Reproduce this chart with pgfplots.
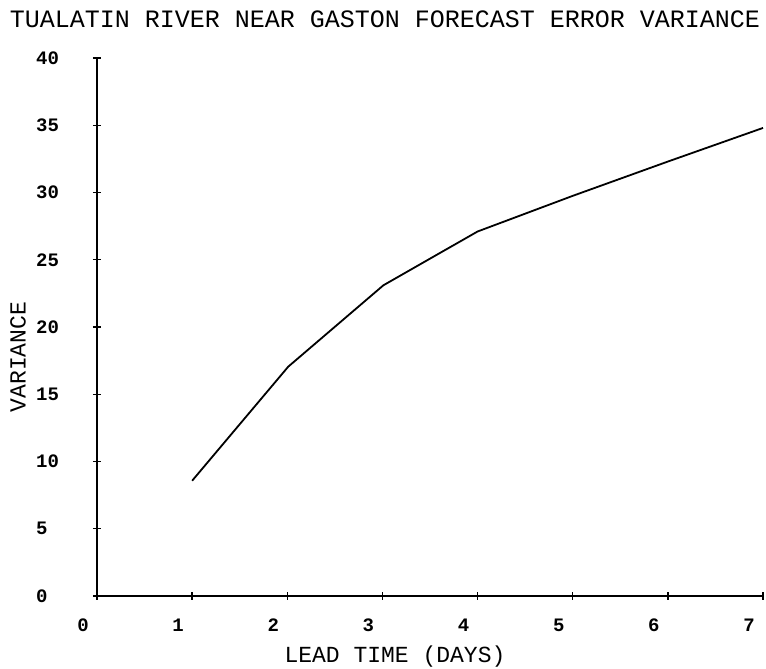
\documentclass[border=0pt]{standalone}
\usepackage{pgfplots}
\pgfplotsset{compat=1.18}
\usepackage{fontspec}
\setmainfont{Liberation Mono}
\begin{document}
\begin{tikzpicture}
\path[use as bounding box] (-97pt,-73pt) rectangle (669pt,596pt);
\begin{axis}[
  at={(0pt,0pt)}, anchor=origin,
  scale only axis, width=666pt, height=538pt,
  xmin=0, xmax=7, ymin=0, ymax=40,
  axis lines*=left,
  axis line style={line width=1.6pt, black},
  xtick={0,1,2,3,4,5,6,7},
  ytick={0,5,10,15,20,25,30,35,40},
  tick align=center,
  major tick length=8pt,
  tick style={line width=1.4pt, black},
  /pgf/number format/assume math mode=true,
  xticklabel style={font=\fontsize{19}{19}\selectfont\bfseries, anchor=north, inner sep=0pt, yshift=-19pt, xshift=-14pt},
  yticklabel style={font=\fontsize{19}{19}\selectfont\bfseries, anchor=west, inner sep=0pt, xshift=-57pt},
  clip=false,
]
\addplot[black, line width=1.8pt] coordinates {
  (1.0,8.57) (2.01,17.05) (3.01,23.1) (4.0,27.1) (5.0,29.75) (6.0,32.3) (7.0,34.8)
};
\end{axis}
\node[anchor=base, font=\fontsize{25}{25}\selectfont] at (288pt,568pt) {TUALATIN RIVER NEAR GASTON FORECAST ERROR VARIANCE};
\node[anchor=base, font=\fontsize{23}{23}\selectfont] at (298pt,-67pt) {LEAD TIME (DAYS)};
\node[rotate=90, anchor=center, font=\fontsize{23}{23}\selectfont] at (-79pt,239pt) {VARIANCE};
\end{tikzpicture}
\end{document}
